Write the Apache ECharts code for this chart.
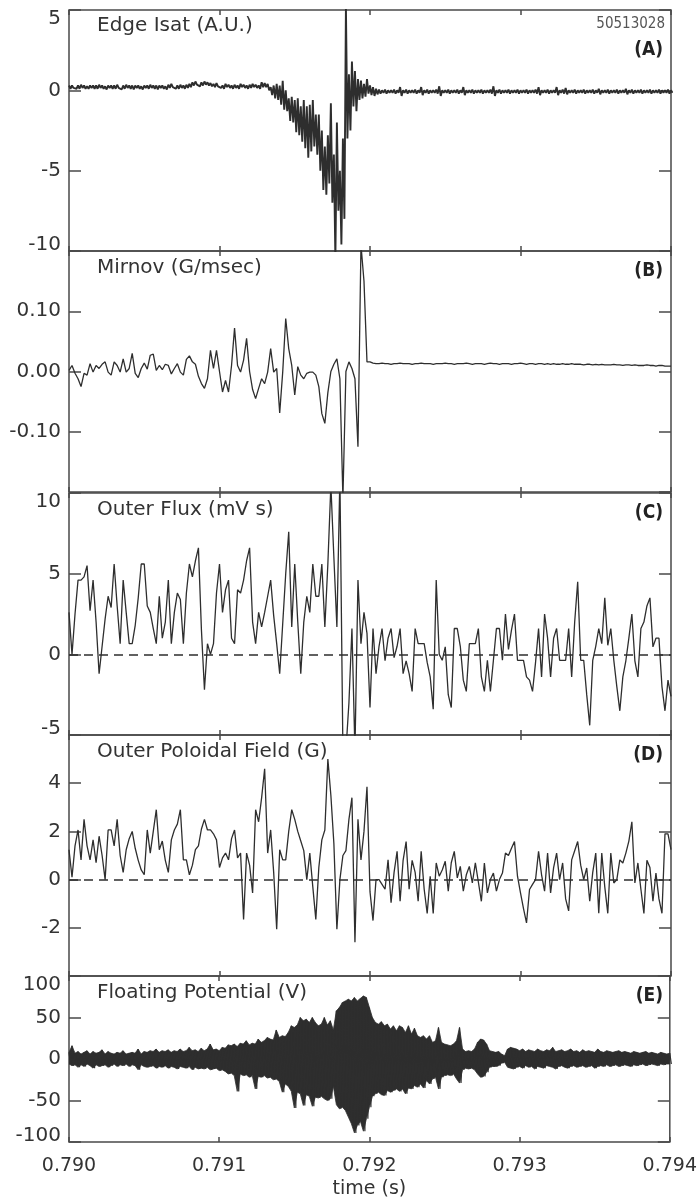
<!DOCTYPE html>
<html>
<head>
<meta charset="utf-8">
<script src="https://cdn.jsdelivr.net/npm/echarts@6/dist/echarts.min.js"></script>
<style>
  html, body { margin: 0; padding: 0; background: #fff; }
  #chart { width: 700px; height: 1200px; }
</style>
</head>
<body>
<div id="chart"></div>
<script>
const t0 = 0.790;
const dt = 0.00002;
const xTicks = [0.790, 0.791, 0.792, 0.793, 0.794];

// (A) edge Isat, upper and lower edge of the noisy trace
const isatHi = [
  0.3,0.3,0.25,0.3,0.35,0.3,0.25,0.3,0.3,0.3, 0.35,0.3,0.25,0.3,0.3,0.3,0.35,0.25,0.3,0.35,
  0.3,0.3,0.3,0.3,0.25,0.3,0.3,0.35,0.3,0.3, 0.3,0.3,0.25,0.35,0.4,0.3,0.3,0.35,0.3,0.35, 0.4,
  0.5,0.55,0.45,0.5,0.55,0.5,0.45,0.4,0.45,
  0.35,0.3,0.4,0.35,0.3,0.35,0.3,0.4,0.35,0.3,0.35,0.4,0.35,0.3,
  0.5,0.45,0.4,
  0.2,0.3,0.4,0.3,0.6,0.0,-0.5,-0.4,-0.6,-0.5,-1.0,-0.6,-1.0,-0.9,-0.6,-1.5,-1.5,-2.5,-3.5,-2.8,
  -0.8,-4.0,-2.0,-5.0,-3.0,5.2,1.0,1.8,1.2,0.7,0.6,0.4,0.7,0.3,
  0.2,0.1,0.05,0.0,0.05,0.0,0.0,0.05,0.0,0.2, 0.0,0.05,0.0,0.0,0.05,0.0,0.2,0.0,0.05,0.0,
  0.0,0.05,0.25,0.0,0.0,0.05,0.0,0.0,0.05,0.0, 0.2,0.0,0.0,0.05,0.0,0.0,0.05,0.0,0.0,0.05,
  0.25,0.0,0.05,0.0,0.0,0.05,0.0,0.0,0.05,0.0, 0.0,0.05,0.0,0.0,0.05,0.2,0.0,0.0,0.05,0.0,
  0.0,0.2,0.0,0.05,0.15,0.0,0.0,0.05,0.0,0.0, 0.05,0.0,0.0,0.05,0.0,0.1,0.0,0.0,0.05,0.0,
  0.0,0.05,0.0,0.0,0.1,0.0,0.05,0.0,0.0,0.05, 0.0,0.0,0.05,0.0,0.0,0.05,0.0,0.0,0.05,0.0
];
const isatLo = [
  0.1,0.15,0.1,0.1,0.15,0.1,0.1,0.15,0.1,0.1, 0.15,0.1,0.05,0.15,0.1,0.1,0.15,0.05,0.1,0.15,
  0.1,0.05,0.15,0.1,0.05,0.15,0.1,0.15,0.1,0.05, 0.15,0.1,0.05,0.15,0.2,0.1,0.1,0.15,0.1,0.15, 0.2,
  0.3,0.35,0.25,0.3,0.35,0.3,0.25,0.2,0.25,
  0.15,0.1,0.2,0.15,0.1,0.15,0.1,0.2,0.15,0.1,0.15,0.2,0.15,0.1,
  0.2,0.2,0.0,
  -0.3,-0.5,-0.6,-0.9,-1.2,-1.3,-1.9,-2.0,-2.6,-2.8,-3.2,-3.6,-4.2,-3.8,-3.5,-4.0,-5.0,-6.2,-6.5,-5.8,
  -7.0,-10.5,-7.5,-9.6,-8.0,-3.0,-2.5,-1.0,-1.3,-0.6,-0.5,-0.4,-0.2,-0.3,
  -0.35,-0.25,-0.2,-0.15,-0.2,-0.15,-0.15,-0.2,-0.15,-0.35, -0.15,-0.2,-0.15,-0.15,-0.2,-0.15,-0.3,-0.15,-0.2,-0.15,
  -0.15,-0.2,-0.35,-0.15,-0.15,-0.2,-0.15,-0.15,-0.2,-0.15, -0.3,-0.15,-0.15,-0.2,-0.15,-0.15,-0.2,-0.15,-0.15,-0.2,
  -0.35,-0.15,-0.2,-0.15,-0.15,-0.2,-0.15,-0.15,-0.2,-0.15, -0.15,-0.2,-0.15,-0.15,-0.2,-0.3,-0.15,-0.15,-0.2,-0.15,
  -0.15,-0.3,-0.15,-0.2,-0.25,-0.15,-0.15,-0.2,-0.15,-0.15, -0.2,-0.15,-0.15,-0.2,-0.15,-0.25,-0.15,-0.15,-0.2,-0.15,
  -0.15,-0.2,-0.15,-0.15,-0.25,-0.15,-0.2,-0.15,-0.15,-0.2, -0.15,-0.15,-0.2,-0.15,-0.15,-0.2,-0.15,-0.15,-0.2,-0.15
];

// (B) Mirnov, G/msec
const mirnov = [
  0.002,0.010,-0.003,-0.012,-0.025,-0.003,-0.006,0.013,-0.001,0.010,
  0.005,0.012,0.016,-0.001,-0.006,0.016,0.010,-0.001,0.021,-0.001,
  0.005,0.030,-0.003,-0.010,0.005,0.014,0.004,0.027,0.029,0.002,
  0.010,0.003,0.012,0.010,-0.004,0.005,0.013,-0.001,-0.006,0.020,
  0.026,0.016,0.012,-0.008,-0.020,-0.028,-0.012,0.035,0.005,0.035,
  0.0,-0.034,-0.015,-0.034,0.010,0.072,0.010,-0.001,0.019,0.055,
  0.0,-0.030,-0.045,-0.028,-0.012,-0.020,-0.001,0.038,-0.001,0.005,
  -0.069,-0.001,0.088,0.038,0.010,-0.039,0.008,-0.006,-0.012,-0.003,
  -0.001,-0.001,-0.006,-0.025,-0.070,-0.086,-0.035,0.0,0.012,0.021,
  -0.012,-0.21,0.0,0.016,0.005,-0.012,-0.125,0.21,0.15,0.016,
  0.016,0.014,0.013,0.013,0.014,0.013,0.013,0.012,0.013,0.013,
  0.014,0.013,0.013,0.013,0.012,0.013,0.013,0.014,0.013,0.013,
  0.013,0.012,0.013,0.013,0.013,0.014,0.013,0.013,0.012,0.013,
  0.013,0.013,0.014,0.013,0.012,0.013,0.013,0.013,0.012,0.013,
  0.014,0.013,0.013,0.012,0.013,0.013,0.013,0.012,0.013,0.013,
  0.014,0.013,0.012,0.013,0.013,0.012,0.013,0.013,0.012,0.013,
  0.012,0.013,0.012,0.012,0.013,0.012,0.012,0.013,0.012,0.012,
  0.012,0.011,0.012,0.012,0.011,0.012,0.011,0.012,0.011,0.011,
  0.011,0.012,0.011,0.011,0.010,0.011,0.011,0.010,0.011,0.010,
  0.010,0.010,0.011,0.010,0.010,0.009,0.010,0.010,0.009,0.009,
  0.009
];

// (C) outer flux, mV s
const flux = [
  2.6,0,2.5,4.6,4.6,4.8,5.5,2.7,4.6,2.0,
  -1.2,0.5,2.2,3.6,2.9,5.6,3.0,0.66,4.6,2.6,
  0.66,0.66,1.8,3.5,5.6,5.6,3.0,2.6,1.6,0.66,
  3.6,1.0,2.0,4.6,0.66,2.6,3.8,3.4,0.66,3.8,
  5.6,4.8,5.8,6.6,1.5,-2.2,0.66,0,0.66,3.8,
  5.6,2.6,4.0,4.6,1.0,0.66,4.0,3.8,4.6,5.8,
  6.6,2.0,0.66,2.6,1.7,2.6,3.6,4.6,2.4,0.66,
  -1.2,1.9,5.0,7.6,1.7,5.6,2.0,-1.2,2.0,3.6,
  2.6,5.6,3.6,3.6,5.6,1.7,5.6,10.5,6.0,1.7,
  11,-6,-6,-3,1.6,-6,4.6,0.66,2.6,1.3,
  -3.3,1.6,-1.2,0.5,1.6,-0.4,1.0,1.6,-0.2,0.5,
  1.6,-1.2,-0.4,-1.2,-2.3,1.6,0.66,0.66,0.66,-0.5,
  -1.4,-3.4,4.6,0,-0.37,0.46,-2.5,-3.3,1.6,1.6,
  0.5,-1.6,-2.3,0.66,0.66,0.66,1.6,-1.4,-2.3,-0.37,
  -2.3,-0.37,1.6,1.6,-0.37,2.5,0.3,1.5,2.5,-0.37,
  -0.37,-0.37,-1.4,-1.6,-2.3,-0.5,1.6,-1.4,2.5,1.0,
  -1.4,1.0,1.6,-0.37,-0.37,-0.37,1.6,-1.4,2.0,4.5,
  -0.37,-0.37,-2.5,-4.4,-0.37,0.5,1.6,0.66,3.5,0.56,
  1.6,-0.37,-2.0,-3.5,-1.4,-0.4,1.0,2.5,-0.4,-1.4,
  1.6,2.0,3.0,3.5,0.46,1.0,1.0,-2.0,-3.5,-1.6,
  -2.6
];

// (D) outer poloidal field, G
const bpol = [
  1.24,0.1,1.4,2.06,0.82,2.5,1.4,0.82,1.65,0.7,
  1.8,1.0,0,2.06,2.06,1.4,2.5,1.0,0.3,1.24,
  1.7,2.0,1.3,0.8,0.4,0.2,2.06,1.1,2.0,2.9,
  1.24,1.6,0.8,0.3,1.65,2.06,2.3,2.9,0.82,0.82,
  0.2,0.6,1.24,1.4,2.1,2.5,2.06,2.06,1.9,1.65,
  0.5,0.9,1.1,0.82,1.7,2.06,0.9,1.1,-1.65,1.1,
  0.6,-0.55,2.9,2.4,3.4,4.6,1.1,2.06,0.3,-2.06,
  1.24,0.82,0.82,2.0,2.9,2.5,2.0,1.6,1.2,0,
  1.1,-0.3,-1.65,0.5,1.65,2.06,5.0,3.5,1.5,-2.06,
  0,1.0,1.2,2.5,3.4,-2.6,2.5,0.82,2.0,3.85,
  -0.5,-1.7,0,0,-0.2,-0.4,0.82,-0.96,0.3,1.17,
  -0.9,0.8,1.58,-0.4,0.8,0.3,-0.9,1.17,-0.4,-1.4,
  0.14,-1.4,0.69,0.14,0.4,0.76,-0.48,0.7,1.17,0.07,
  0.55,-0.48,0.2,0.55,-0.14,0.69,-0.1,-0.9,0.69,-0.55,
  0,0.27,-0.48,0,0.27,1.1,1.0,1.3,1.58,0.14,
  -0.55,-1.2,-1.8,-0.41,-0.2,0,1.17,0.2,-0.48,1.1,
  -0.55,0.5,1.1,0,0.69,-0.8,-1.3,0.82,1.2,1.58,
  0.6,0,0.48,-0.9,0.3,1.1,-1.4,1.1,-0.3,-1.4,
  1.1,-0.14,0,0.82,0.69,1.1,1.6,2.4,-0.14,0.69,
  -0.4,-1.4,0.8,0.5,-0.9,0.27,-0.8,-1.4,1.9,1.9,
  1.24
];

// (E) floating potential, upper and lower edge of the fast oscillation, V
const vfHi = [
  8,16,7,9,6,8,10,6,9,7, 8,11,6,9,7,6,8,7,10,6, 7,8,
  7,12,6,9,8,10,9,12, 8,10,9,11,8,10,9,12,9,10, 14,10,11,9,13,10,12,18,11,12,
  10,14,13,17,16,18,15,19,18,22, 17,19,18,24,20,22,26,24,23,35,
  26,28,27,32,40,38,41,50,46,48, 44,50,44,40,42,50,41,46,35,58,
  62,68,70,72,70,74,70,73,76,74, 62,50,44,42,45,40,42,36,40,34,
  40,38,32,40,30,37,28,26,28,24, 28,20,22,38,20,18,17,16,18,22,
  38,12,9,10,9,12,20,24,23,18, 10,9,8,9,6,4,12,14,13,12,
  10,12,9,11,10,9,12,10,9,11, 10,14,9,10,11,9,10,12,9,10,
  8,11,9,10,9,8,12,9,8,10, 9,8,9,10,8,9,8,7,9,8,
  7,8,9,7,8,7,6,8,7,6, 7
];
const vfLo = [
  -6,-8,-7,-10,-7,-9,-6,-8,-11,-7, -9,-8,-7,-10,-8,-6,-9,-7,-8,-6, -9,-7,
  -8,-13,-7,-9,-10,-9,-8,-11, -9,-10,-8,-11,-9,-10,-12,-9,-10,-11, -9,-13,-10,-12,-11,-12,-10,-13,-12,-11,
  -14,-13,-15,-18,-17,-20,-39,-18,-20,-19, -22,-20,-36,-21,-22,-20,-23,-22,-25,-24,
  -27,-40,-30,-33,-39,-59,-40,-42,-56,-43, -45,-57,-46,-47,-45,-48,-50,-48,-33,-55,
  -60,-58,-62,-70,-78,-89,-80,-75,-87,-72, -58,-45,-42,-40,-43,-44,-38,-40,-38,-36,
  -39,-36,-42,-35,-36,-32,-34,-30,-35,-26, -30,-24,-22,-36,-22,-20,-19,-20,-18,-24,
  -29,-13,-11,-12,-11,-13,-18,-22,-21,-16, -10,-9,-9,-8,-5,-4,-10,-11,-12,-10,
  -9,-11,-8,-10,-9,-12,-9,-10,-11,-8, -9,-10,-12,-9,-8,-10,-11,-9,-8,-10,
  -9,-8,-10,-9,-8,-11,-9,-8,-9,-7, -9,-8,-7,-9,-8,-7,-8,-9,-7,-8,
  -7,-6,-8,-7,-6,-7,-8,-6,-7,-6, -6
];

const zeroLine = 0;

function trace(vals) {
  return vals.map((v, i) => [t0 + i * dt, v]);
}
// fast signals: alternate between the upper and lower edge read at each point
function band(hi, lo) {
  const out = [];
  hi.forEach((v, i) => {
    out.push([t0 + i * dt, v]);
    out.push([t0 + (i + 0.5) * dt, lo[i]]);
  });
  return out;
}

const ink = '#2e2e2e';
const frame = '#4a4a4a';
const font = 'DejaVu Sans';

const panels = [
  { top: 10,  height: 241, min: -10,  max: 5,   step: 5,   name: 'Edge Isat (A.U.)',      tag: '(A)', data: band(isatHi, isatLo), width: 1.9 },
  { top: 251, height: 241, min: -0.2, max: 0.2, step: 0.1, name: 'Mirnov (G/msec)',       tag: '(B)', data: trace(mirnov), ends: false, digits: 2 },
  { top: 493, height: 242, min: -5,   max: 10,  step: 5,   name: 'Outer Flux (mV s)',     tag: '(C)', data: trace(flux), zero: true },
  { top: 735, height: 241, min: -4,   max: 6,   step: 2,   name: 'Outer Poloidal Field (G)', tag: '(D)', data: trace(bpol), zero: true, ends: false },
  { top: 976, height: 167, min: -100, max: 100, step: 50,  name: 'Floating Potential (V)', tag: '(E)', data: band(vfHi, vfLo), width: 1.2,
    fill: [trace(vfHi), trace(vfLo)] }
];

const grid = [], xAxis = [], yAxis = [], series = [], title = [];

panels.forEach((p, k) => {
  grid.push({ left: 69, width: 602, top: p.top, height: p.height, show: true,
              borderColor: frame, borderWidth: 1.5, backgroundColor: 'transparent' });
  const last = k === panels.length - 1;
  ['bottom', 'top'].forEach(pos => {
    xAxis.push({
      type: 'value', gridIndex: k, position: pos,
      min: xTicks[0], max: xTicks[xTicks.length - 1], interval: 0.001,
      axisLine: { show: false, onZero: false },
      axisTick: { inside: true, length: 5, lineStyle: { color: frame, width: 1.5 } },
      splitLine: { show: false },
      axisLabel: { show: last && pos === 'bottom', margin: 15, color: '#333',
                   fontFamily: font, fontSize: 19, formatter: v => v.toFixed(3) },
      name: last && pos === 'bottom' ? 'time (s)' : '',
      nameLocation: 'middle', nameGap: 38,
      nameTextStyle: { color: '#333', fontFamily: font, fontSize: 19 }
    });
  });
  ['left', 'right'].forEach(pos => {
    yAxis.push({
      type: 'value', gridIndex: k, position: pos,
      min: p.min, max: p.max, interval: p.step,
      axisLine: { show: false, onZero: false },
      axisTick: { inside: true, length: 12, lineStyle: { color: frame, width: 1.5 } },
      splitLine: { show: false },
      axisLabel: {
        show: pos === 'left', margin: 8, color: '#333', fontFamily: font, fontSize: 20,
        showMinLabel: p.ends !== false, showMaxLabel: p.ends !== false,
        formatter: v => {
          const s = (Math.abs(v) < 1e-9 ? 0 : v).toFixed(p.digits || 0);
          // end labels sit a little inside the frame
          if (Math.abs(v - p.max) < 1e-9) return '{hi|' + s + '}';
          if (Math.abs(v - p.min) < 1e-9) return '{lo|' + s + '}';
          return s;
        },
        rich: {
          hi: { fontFamily: font, fontSize: 20, color: '#333', padding: [18, 0, 0, 0] },
          lo: { fontFamily: font, fontSize: 20, color: '#333', padding: [0, 0, 12, 0] }
        }
      }
    });
  });
  // solid body of the fast oscillation, from zero out to each edge
  (p.fill || []).forEach(d => {
    series.push({
      type: 'line', xAxisIndex: 2 * k, yAxisIndex: 2 * k, data: d,
      symbol: 'none', silent: true, clip: true, animation: false,
      lineStyle: { color: ink, width: 0.8 },
      areaStyle: { color: ink, opacity: 1, origin: 0 }
    });
  });
  const s = {
    type: 'line', xAxisIndex: 2 * k, yAxisIndex: 2 * k, data: p.data,
    symbol: 'none', silent: true, clip: true, animation: false,
    lineStyle: { color: ink, width: p.width || 1.3 }
  };
  if (p.zero) {
    s.markLine = { silent: true, symbol: 'none', animation: false, label: { show: false },
                   lineStyle: { color: ink, width: 1.5, type: [9, 6] },
                   data: [{ yAxis: zeroLine }] };
  }
  series.push(s);

  const cy = k === 0 ? 28 : p.top + 19;
  title.push({ text: p.name, left: 97, top: cy - 12, padding: 0,
               textStyle: { color: '#333', fontFamily: font, fontSize: 20, fontWeight: 'normal' } });
  const ty = k === 0 ? 52 : p.top + 22;
  title.push({ text: p.tag, right: 37, top: ty - 11, padding: 0,
               textStyle: { color: '#222', fontFamily: "'DejaVu Sans Condensed', 'DejaVu Sans'", fontSize: 19, fontWeight: 'bold' } });
});

title.push({ text: '50513028', right: 35, top: 17, padding: 0,
             textStyle: { color: '#555', fontFamily: "'Liberation Sans Narrow', 'DejaVu Sans Condensed', sans-serif",
                          fontSize: 15, fontWeight: 'normal' } });

const chart = echarts.init(document.getElementById('chart'));
chart.setOption({ animation: false, title, grid, xAxis, yAxis, series });
</script>
</body>
</html>
